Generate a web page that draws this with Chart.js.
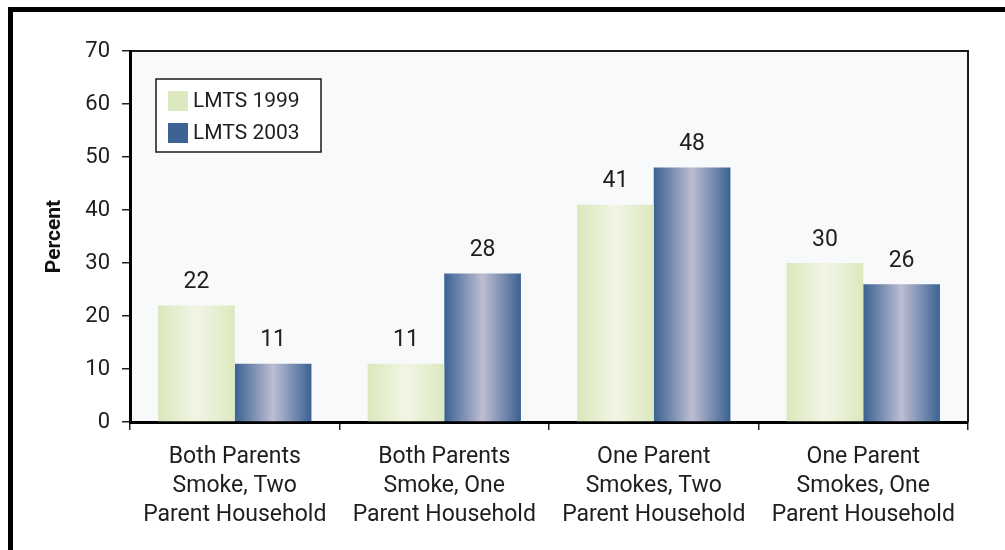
<!DOCTYPE html>
<html>
<head>
<meta charset="utf-8">
<script src="https://cdn.jsdelivr.net/npm/chart.js@4.4.0/dist/chart.umd.min.js"></script>
<style>
  html, body { margin: 0; padding: 0; background: #fff; }
  #wrap { position: relative; width: 1005px; height: 550px; overflow: hidden; }
  #frame { position: absolute; left: 8px; top: 7px; right: 0; bottom: 0; border-left: 5px solid #000; border-top: 5px solid #000; }
  #chart { position: absolute; left: 0; top: 0; }
</style>
</head>
<body>
<div id="wrap">
  <div id="frame"></div>
  <canvas id="chart" width="1005" height="550"></canvas>
</div>
<script>
// Data
const categories = [
  ['Both Parents', 'Smoke, Two', 'Parent Household'],
  ['Both Parents', 'Smoke, One', 'Parent Household'],
  ['One Parent', 'Smokes, Two', 'Parent Household'],
  ['One Parent', 'Smokes, One', 'Parent Household']
];
const seriesNames = ['LMTS 1999', 'LMTS 2003'];
const values1999 = [22, 11, 41, 30];
const values2003 = [11, 28, 48, 26];
const yTicks = [0, 10, 20, 30, 40, 50, 60, 70];

// Styles
const swatch = ['#dce9c0', '#3c6393'];
const gradientStops = [
  ['#dbe8bb', '#f2f5e6', '#dce9bf'],
  ['#3b6292', '#bdbdd3', '#3b6292']
];
const textColor = '#1e1e1e';
const fontFamily = 'Roboto, "Liberation Sans", sans-serif';

// plot background + frame of the plot area
const plotBox = {
  id: 'plotBox',
  beforeDraw(chart) {
    const { ctx, chartArea: a } = chart;
    ctx.save();
    ctx.fillStyle = '#f8f9fb';
    ctx.fillRect(a.left, a.top, a.right - a.left, a.bottom - a.top);
    ctx.strokeStyle = '#1a1a1a';
    ctx.lineWidth = 2;
    ctx.beginPath();
    ctx.moveTo(a.left, a.top);
    ctx.lineTo(a.right, a.top);
    ctx.lineTo(a.right, a.bottom);
    ctx.stroke();
    ctx.restore();
  }
};

// horizontal cylinder-like shading on every bar
const barGradients = {
  id: 'barGradients',
  beforeDatasetsDraw(chart) {
    const ctx = chart.ctx;
    chart.data.datasets.forEach((ds, i) => {
      chart.getDatasetMeta(i).data.forEach(bar => {
        const left = bar.x - bar.width / 2;
        const g = ctx.createLinearGradient(left, 0, left + bar.width, 0);
        const stops = gradientStops[i];
        stops.forEach((c, k) => g.addColorStop(k / (stops.length - 1), c));
        bar.options = Object.assign({}, bar.options, { backgroundColor: g });
      });
    });
  }
};

// value above each bar
const valueLabels = {
  id: 'valueLabels',
  afterDatasetsDraw(chart) {
    const ctx = chart.ctx;
    ctx.save();
    ctx.font = '23px ' + fontFamily;
    ctx.fillStyle = textColor;
    ctx.textAlign = 'center';
    ctx.textBaseline = 'middle';
    chart.data.datasets.forEach((ds, i) => {
      chart.getDatasetMeta(i).data.forEach((bar, j) => {
        ctx.fillText(ds.data[j], bar.x, bar.y - 23);
      });
    });
    ctx.restore();
  }
};

// boxed legend inside the plot
const boxLegend = {
  id: 'boxLegend',
  afterDraw(chart) {
    const { ctx, chartArea: a } = chart;
    const x = a.left + 26, y = a.top + 28;
    ctx.save();
    ctx.fillStyle = '#fff';
    ctx.fillRect(x, y, 165, 73);
    ctx.strokeStyle = '#1a1a1a';
    ctx.lineWidth = 1.5;
    ctx.strokeRect(x, y, 165, 73);
    ctx.font = '21px ' + fontFamily;
    ctx.textBaseline = 'middle';
    chart.data.datasets.forEach((ds, i) => {
      const rowY = y + 12 + i * 32;
      ctx.fillStyle = swatch[i];
      ctx.fillRect(x + 12, rowY, 20, 20);
      ctx.fillStyle = textColor;
      ctx.fillText(ds.label, x + 37, rowY + 11);
    });
    ctx.restore();
  }
};

new Chart(document.getElementById('chart').getContext('2d'), {
  type: 'bar',
  data: {
    labels: categories,
    datasets: [
      { label: seriesNames[0], data: values1999, backgroundColor: swatch[0] },
      { label: seriesNames[1], data: values2003, backgroundColor: swatch[1] }
    ]
  },
  options: {
    responsive: false,
    animation: false,
    events: [],
    categoryPercentage: 0.732,
    barPercentage: 1.0,
    layout: { padding: { left: 13, top: 51, right: 37, bottom: 0 } },
    plugins: {
      legend: { display: false },
      tooltip: { enabled: false }
    },
    scales: {
      x: {
        afterFit(scale) { scale.height = 128; },
        border: { display: true, color: '#000', width: 3 },
        grid: { display: true, drawOnChartArea: false, drawTicks: true, tickLength: 8, color: '#222', lineWidth: 1.5 },
        ticks: {
          color: textColor,
          font: { family: fontFamily, size: 23, lineHeight: 29 / 23 },
          padding: 13,
          maxRotation: 0,
          autoSkip: false
        }
      },
      y: {
        min: yTicks[0],
        max: yTicks[yTicks.length - 1],
        afterFit(scale) { scale.width = 117; },
        border: { display: true, color: '#000', width: 3 },
        grid: { display: true, drawOnChartArea: false, drawTicks: true, tickLength: 8, color: '#222', lineWidth: 1.5 },
        ticks: {
          stepSize: yTicks[1] - yTicks[0],
          color: textColor,
          font: { family: fontFamily, size: 22 },
          padding: 12
        },
        title: {
          display: true,
          text: 'Percent',
          color: '#111',
          font: { family: fontFamily, size: 21, weight: 'bold' },
          padding: { top: 29, bottom: 0 }
        }
      }
    }
  },
  plugins: [plotBox, barGradients, valueLabels, boxLegend]
});
</script>
</body>
</html>
